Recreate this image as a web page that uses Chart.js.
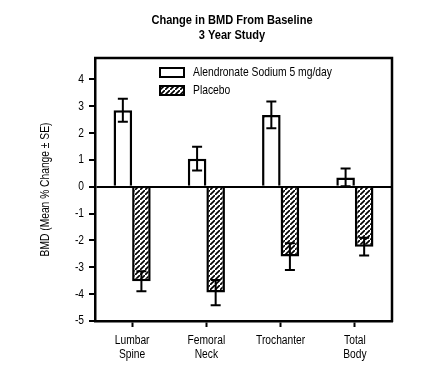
<!DOCTYPE html>
<html>
<head>
<meta charset="utf-8">
<script src="https://cdn.jsdelivr.net/npm/chart.js@4.4.1/dist/chart.umd.min.js"></script>
<style>
  html, body { margin: 0; padding: 0; background: #fff; }
  #wrap { width: 439px; height: 373px; position: relative; }
</style>
</head>
<body>
<div id="wrap"><canvas id="bmdChart" width="439" height="373"></canvas></div>
<script>
// data
const sites = [['Lumbar', 'Spine'], ['Femoral', 'Neck'], ['Trochanter'], ['Total', 'Body']];
const alendronateMean = [2.85, 1.05, 2.68, 0.35];
const alendronateSE = [0.43, 0.44, 0.5, 0.33];
const placeboMean = [-3.52, -3.94, -2.6, -2.23];
const placeboSE = [0.37, 0.47, 0.5, 0.33];
const yTicks = [-5, -4, -3, -2, -1, 0, 1, 2, 3, 4];
const titleLines = ['Change in BMD From Baseline', '3 Year Study'];
const yTitle = 'BMD (Mean % Change \u00b1 SE)';

// no narrow face installed, so squeeze Liberation Sans the way Arial Narrow is
const FONT = '"Liberation Sans", Arial, sans-serif';
const SQUEEZE = 0.82;

function narrowText(c, text, x, y, font, align, rot) {
    c.save();
    c.translate(x, y);
    if (rot) c.rotate(rot);
    c.scale(SQUEEZE, 1);
    c.font = font;
    c.textAlign = align;
    c.fillText(text, 0, 0);
    c.restore();
}

function hatch() {
    const n = 5;
    const c = document.createElement('canvas');
    c.width = n; c.height = n;
    const g = c.getContext('2d');
    g.fillStyle = '#fff'; g.fillRect(0, 0, n, n);
    g.strokeStyle = '#000'; g.lineWidth = 1.6;
    g.beginPath();
    g.moveTo(-1, n + 1); g.lineTo(n + 1, -1);
    g.moveTo(-n - 1, 1); g.lineTo(1, -n - 1);
    g.moveTo(n - 1, 2 * n + 1); g.lineTo(2 * n + 1, n - 1);
    g.stroke();
    return g.createPattern(c, 'repeat');
}
const ctx = document.getElementById('bmdChart').getContext('2d');
const hatchFill = hatch();

// error bars, frame, labels, legend and title
const extras = {
    id: 'extras',
    afterDatasetsDraw(chart) {
        const c = chart.ctx, y = chart.scales.y, x = chart.scales.x, a = chart.chartArea;
        c.save();
        c.strokeStyle = '#000'; c.fillStyle = '#000'; c.lineWidth = 2;
        chart.data.datasets.forEach((ds, i) => {
            chart.getDatasetMeta(i).data.forEach((bar, j) => {
                const top = y.getPixelForValue(ds.data[j] + ds.se[j]);
                const bot = y.getPixelForValue(ds.data[j] - ds.se[j]);
                c.beginPath();
                c.moveTo(bar.x, top); c.lineTo(bar.x, bot);
                c.moveTo(bar.x - 5, top); c.lineTo(bar.x + 5, top);
                c.moveTo(bar.x - 5, bot); c.lineTo(bar.x + 5, bot);
                c.stroke();
            });
        });
        // top and right frame
        c.lineWidth = 2.5;
        c.beginPath();
        c.moveTo(a.left - 1, a.top); c.lineTo(a.right, a.top); c.lineTo(a.right, a.bottom + 1);
        c.stroke();

        // tick labels from the library's scales
        c.textBaseline = 'middle';
        yTicks.forEach(v => narrowText(c, String(v), a.left - 11, y.getPixelForValue(v), '12.5px ' + FONT, 'right'));
        c.textBaseline = 'alphabetic';
        sites.forEach((lines, i) => {
            const px = x.getPixelForValue(i);
            lines.forEach((t, k) => narrowText(c, t, px, a.bottom + 23 + k * 14, '12.5px ' + FONT, 'center'));
        });
        c.textBaseline = 'middle';
        narrowText(c, yTitle, 46, (a.top + a.bottom) / 2, '12.5px ' + FONT, 'center', -Math.PI / 2);

        // legend
        chart.data.datasets.forEach((ds, i) => {
            const ly = 68 + i * 18;
            c.fillStyle = ds.backgroundColor;
            c.fillRect(160, ly, 24, 9);
            c.lineWidth = 2;
            c.strokeRect(160, ly, 24, 9);
            c.fillStyle = '#000';
            narrowText(c, ds.label, 193, ly + 5, '12.6px ' + FONT, 'left');
        });
        // title
        titleLines.forEach((t, i) => narrowText(c, t, 232, 20 + i * 15, 'bold 13.5px ' + FONT, 'center'));
        c.restore();
    }
};

new Chart(ctx, {
    type: 'bar',
    data: {
        labels: sites,
        datasets: [
            { label: 'Alendronate Sodium 5 mg/day', data: alendronateMean, se: alendronateSE,
              backgroundColor: '#fff', borderColor: '#000', borderWidth: 2.5 },
            { label: 'Placebo', data: placeboMean, se: placeboSE,
              backgroundColor: hatchFill, borderColor: '#000', borderWidth: 2.5 }
        ]
    },
    options: {
        responsive: false,
        animation: false,
        categoryPercentage: 0.5,
        barPercentage: 1,
        layout: { padding: { top: 58, right: 47, left: 0, bottom: 0 } },
        plugins: { legend: { display: false }, title: { display: false }, tooltip: { enabled: false } },
        scales: {
            x: {
                afterFit(s) { s.height = 52; },
                border: { color: '#000', width: 2.5 },
                grid: { offset: false, drawOnChartArea: false, tickLength: 6, tickColor: '#000', tickWidth: 2 },
                ticks: { display: false }
            },
            y: {
                min: -5, max: 4.8,
                afterFit(s) { s.width = 95; },
                afterBuildTicks(s) { s.ticks = yTicks.map(v => ({ value: v })); },
                border: { color: '#000', width: 2.5 },
                grid: {
                    color: c => c.tick && c.tick.value === 0 ? '#000' : 'rgba(0,0,0,0)',
                    lineWidth: 2, tickLength: 6, tickColor: '#000', tickWidth: 2
                },
                ticks: { display: false }
            }
        }
    },
    plugins: [extras]
});
</script>
</body>
</html>
